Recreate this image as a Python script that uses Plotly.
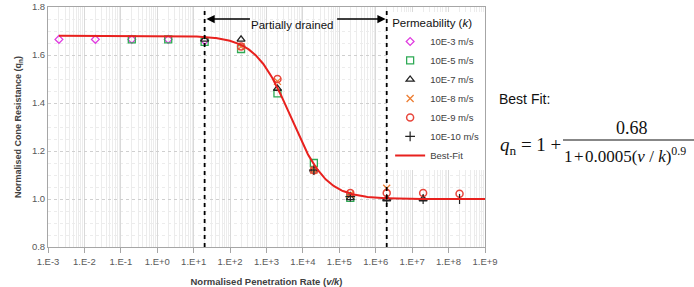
import numpy as np
import plotly.graph_objects as go

# ---------------- data ----------------
k_labels = ["10E-3 m/s", "10E-5 m/s", "10E-7 m/s", "10E-8 m/s", "10E-9 m/s", "10E-10 m/s"]

x_k3 = [2e-3, 2e-2, 2e-1, 2e0, 2e1]
y_k3 = [1.665, 1.665, 1.665, 1.665, 1.660]

x_k5 = [2e-1, 2e0, 2e1, 2e2, 2e3, 2e4, 2e5]
y_k5 = [1.665, 1.665, 1.655, 1.625, 1.440, 1.150, 1.005]

x_k7 = [2e1, 2e2, 2e3, 2e4, 2e5, 2e6, 2e7]
y_k7 = [1.665, 1.665, 1.460, 1.120, 1.005, 1.000, 1.000]

x_k8 = [2e2, 2e3, 2e4, 2e5, 2e6]
y_k8 = [1.635, 1.490, 1.120, 1.020, 1.045]

x_k9 = [2e2, 2e3, 2e4, 2e5, 2e6, 2e7, 2e8]
y_k9 = [1.635, 1.500, 1.120, 1.025, 1.025, 1.025, 1.022]

x_k10 = [2e4, 2e5, 2e6, 2e7, 2e8]
y_k10 = [1.120, 1.010, 1.000, 1.000, 1.000]

# best fit parameters  q = 1 + A / (1 + B (v/k)^N)
fit_A = 0.68
fit_B = 0.0005
fit_N = 0.9
fit_xmin, fit_xmax = 2e-3, 1e9

# partially drained boundaries
drain_lo, drain_hi = 2e1, 2e6

x_tickvals = [10.0 ** p for p in range(-3, 10)]
x_ticktext = ["1.E-3", "1.E-2", "1.E-1", "1.E+0", "1.E+1", "1.E+2", "1.E+3",
              "1.E+4", "1.E+5", "1.E+6", "1.E+7", "1.E+8", "1.E+9"]

# ---------------- figure ----------------
fig = go.Figure()

series = [
    (x_k3, y_k3, dict(symbol="diamond-open", color="#E03CE0", size=6, line=dict(width=1.3))),
    (x_k5, y_k5, dict(symbol="square-open", color="#2EAA55", size=7, line=dict(width=1.3))),
    (x_k7, y_k7, dict(symbol="triangle-up-open", color="#222222", size=7, line=dict(width=1.3))),
    (x_k8, y_k8, dict(symbol="x-thin-open", color="#ED7D31", size=7, line=dict(width=1.3))),
    (x_k9, y_k9, dict(symbol="circle-open", color="#E8463C", size=7, line=dict(width=1.5))),
    (x_k10, y_k10, dict(symbol="cross-thin-open", color="#222222", size=7, line=dict(width=1.2))),
]
for (xs, ys, mk), name in zip(series, k_labels):
    mk["line"]["color"] = mk["color"]
    fig.add_trace(go.Scatter(x=xs, y=ys, mode="markers", name=name, marker=mk))

xf = np.logspace(np.log10(fit_xmin), np.log10(fit_xmax), 400)
yf = 1 + fit_A / (1 + fit_B * xf ** fit_N)
fig.add_trace(go.Scatter(x=xf, y=yf, mode="lines", name="Best-Fit",
                         line=dict(color="#E8211E", width=2)))

for xv in (drain_lo, drain_hi):
    fig.add_trace(go.Scatter(x=[xv, xv], y=[0.8, 1.8], mode="lines", showlegend=False,
                             line=dict(color="black", width=1.8, dash="4px,4px"),
                             hoverinfo="skip", cliponaxis=False))

tickfont = dict(family="Liberation Sans", size=9.5, color="#595959")

fig.update_xaxes(type="log", range=[-3, 9], tickmode="array", tickvals=x_tickvals,
                 ticktext=x_ticktext, tickfont=tickfont, showgrid=True,
                 gridcolor="#d9d9d9", gridwidth=1, showline=True, linecolor="#a6a6a6",
                 ticks="outside", ticklen=5, tickcolor="#a6a6a6", ticklabelstandoff=1,
                 minor=dict(dtick="D1", showgrid=True, gridcolor="#ececec", ticks=""),
                 mirror=True, zeroline=False, automargin=False,
                 title=dict(text="<b>Normalised Penetration Rate (<i>v/k</i>)</b>",
                            font=dict(family="Liberation Sans", size=9.5, color="#404040"),
                            standoff=17))
fig.update_yaxes(range=[0.8, 1.8], dtick=0.2, tickformat=".1f", tickfont=tickfont,
                 showgrid=True, gridcolor="#cfcfcf", griddash="dot",
                 minor=dict(dtick=0.05, showgrid=True, gridcolor="#ececec"),
                 showline=True, linecolor="#a6a6a6", mirror=True, zeroline=False,
                 automargin=False,
                 title=dict(text="<b>Normalised Cone Resistance (q<sub>n</sub>)</b>",
                            font=dict(family="Liberation Sans", size=9, color="#404040"),
                            standoff=8))


def px(xp):
    return (xp - 48) / (694 - 48 - 209)


def py(yp):
    return (247 - yp) / 240


# Partially drained arrows
arrow_y = py(19)
fig.add_annotation(x=np.log10(drain_lo) + 0.05, y=arrow_y, xref="x", yref="paper",
                   ax=45, ay=0, showarrow=True, arrowhead=2, arrowsize=1.1,
                   arrowwidth=1.5, arrowcolor="black", text="")
fig.add_annotation(x=np.log10(drain_hi) - 0.03, y=arrow_y, xref="x", yref="paper",
                   ax=-50, ay=0, showarrow=True, arrowhead=2, arrowsize=1.1,
                   arrowwidth=1.5, arrowcolor="black", text="")
fig.add_annotation(x=px(292), y=py(25), xref="paper", yref="paper", showarrow=False,
                   xanchor="center", yanchor="middle",
                   text="Partially drained",
                   font=dict(family="Liberation Sans", size=11.5, color="#111111"))

# Best fit formula
serif = "Liberation Serif"
fig.add_annotation(x=px(497), y=py(99), xref="paper", yref="paper", showarrow=False,
                   text="Best Fit:", xanchor="left", yanchor="middle",
                   font=dict(family="Liberation Sans", size=14, color="#111111"))
fig.add_annotation(x=px(498), y=py(146), xref="paper", yref="paper", showarrow=False,
                   xanchor="left", yanchor="middle",
                   text="<i>q</i><sub>n</sub> = 1 +",
                   font=dict(family=serif, size=19, color="#111111"))
fig.add_annotation(x=px(632), y=py(128), xref="paper", yref="paper", showarrow=False,
                   xanchor="center", yanchor="middle", text="0.68",
                   font=dict(family=serif, size=18, color="#111111"))
fig.add_shape(type="line", xref="paper", yref="paper", x0=px(563), x1=px(700),
              y0=py(140), y1=py(140), line=dict(color="#111111", width=1.2))
fig.add_annotation(x=px(562), y=py(155), xref="paper", yref="paper", showarrow=False,
                   xanchor="left", yanchor="middle",
                   text="1\u200a+\u200a0.0005(<i>v</i> / <i>k</i>)<sup>0.9</sup>",
                   font=dict(family=serif, size=17, color="#111111"))

fig.update_layout(
    width=694, height=287,
    margin=dict(l=48, r=209, t=7, b=40),
    paper_bgcolor="white", plot_bgcolor="white",
    showlegend=True,
    legend=dict(x=0.998, xanchor="right", y=py(12), yanchor="top",
                bgcolor="white", borderwidth=0,
                title=dict(text="Permeability (<i>k</i>)",
                           font=dict(family="Liberation Sans", size=11.5, color="#111111")),
                font=dict(family="Liberation Sans", size=9.5, color="#404040"),
                itemwidth=30, tracegroupgap=0),
)

fig.write_html("out.html")
